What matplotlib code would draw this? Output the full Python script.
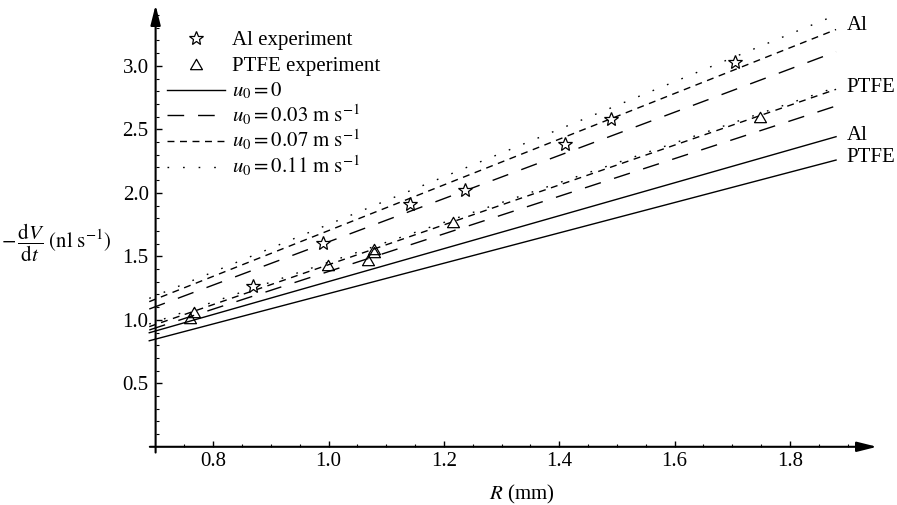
import numpy as np
import matplotlib
matplotlib.use("Agg")
import matplotlib.pyplot as plt
from matplotlib.path import Path
from matplotlib.lines import Line2D
from matplotlib.ticker import FixedLocator

plt.rcParams['font.family'] = ['Liberation Serif', 'DejaVu Serif']
plt.rcParams['mathtext.fontset'] = 'stix'

# model lines (straight, two end points each)
r_line = [0.689, 1.88]
al_u0 = [0.898, 2.442]
al_u003 = [1.085, 3.111]
al_u007 = [1.143, 3.286]
al_u011 = [1.169, 3.400]
ptfe_u0 = [0.835, 2.258]
ptfe_u003 = [0.920, 2.684]
ptfe_u007 = [0.946, 2.815]
ptfe_u011 = [0.967, 2.831]

# experiments
al_r = [0.869, 0.990, 1.142, 1.237, 1.410, 1.490, 1.705]
al_v = [1.266, 1.602, 1.912, 2.022, 2.384, 2.579, 3.030]
ptfe_r = [0.760, 0.767, 0.999, 1.069, 1.079, 1.079, 1.216, 1.748]
ptfe_v = [1.012, 1.064, 1.431, 1.471, 1.534, 1.555, 1.770, 2.594]

labels = [r'$u_0 = 0$', r'$u_0 = 0.03\ \mathrm{m\ s}^{-1}$',
          r'$u_0 = 0.07\ \mathrm{m\ s}^{-1}$', r'$u_0 = 0.11\ \mathrm{m\ s}^{-1}$']
styles = ['-', (0, (12, 10)), (0, (5, 4)), (0, (1.2, 10))]

W, H = 897, 505
fig = plt.figure(figsize=(W / 100, H / 100), dpi=100)
x0, x1, y0, y1 = 155.6, 877, 446.8, 5
ax = fig.add_axes([x0 / W, (H - y0) / H, (x1 - x0) / W, (y0 - y1) / H])
ax.set_xlim(0.7, 1.951)
ax.set_ylim(0, 3.479)
for s in ax.spines.values():
    s.set_visible(False)

for al, pt, ls in zip([al_u0, al_u003, al_u007, al_u011],
                      [ptfe_u0, ptfe_u003, ptfe_u007, ptfe_u011], styles):
    ax.plot(r_line, al, color='black', lw=1.0, ls=ls, clip_on=False)
    ax.plot(r_line, pt, color='black', lw=1.0, ls=ls, clip_on=False)

tri = Path([(-1, -0.866), (1, -0.866), (0, 0.866), (-1, -0.866)], closed=True)
star_kw = dict(marker='*', ms=10, mfc='white', mec='black', mew=0.9)
tri_kw = dict(marker=tri, ms=8.6, mfc='none', mec='black', mew=0.9)
ax.plot(al_r, al_v, ls='none', zorder=5, **star_kw)
ax.plot(ptfe_r, ptfe_v, ls='none', zorder=5, **tri_kw)

# axes with arrows
arr = dict(arrowstyle='-|>,head_length=1.2,head_width=0.3', color='black', lw=1.5,
           shrinkA=0, shrinkB=0)
ax.annotate('', xy=(1, 0), xytext=(-0.008, 0), xycoords='axes fraction', arrowprops=arr)
ax.annotate('', xy=(0, 1), xytext=(0, -0.013), xycoords='axes fraction', arrowprops=arr)

ax.xaxis.set_major_locator(FixedLocator([0.8, 1.0, 1.2, 1.4, 1.6, 1.8]))
ax.xaxis.set_minor_locator(FixedLocator(np.arange(0.75, 1.91, 0.05)))
ax.yaxis.set_major_locator(FixedLocator([0.5, 1.0, 1.5, 2.0, 2.5, 3.0]))
ax.yaxis.set_minor_locator(FixedLocator(np.arange(0.1, 3.41, 0.1)))
ax.xaxis.set_major_formatter(plt.FuncFormatter(lambda v, p: f'{v:.1f}'))
ax.yaxis.set_major_formatter(plt.FuncFormatter(lambda v, p: f'{v:.1f}'))
ax.tick_params(which='major', direction='in', length=4, width=1, labelsize=15, pad=5)
ax.tick_params(which='minor', direction='in', length=2.5, width=0.8)
ax.tick_params(axis='x', pad=4)

# right-hand labels
for txt, yv in [('Al', 3.315), ('PTFE', 2.833), ('Al', 2.451), ('PTFE', 2.278)]:
    ax.text(1.898, yv, txt, fontsize=15, va='center', ha='left', clip_on=False)

fig.text(522 / W, 1 - 494 / H, r'$R$ (mm)', fontsize=15, ha='center', va='center')
fig.text(56 / W, 1 - 243 / H, r'$-\,\dfrac{\mathrm{d}V}{\mathrm{d}t}\ (\mathrm{nl\ s}^{-1})$',
         fontsize=15, ha='center', va='center')

# legend, drawn row by row
def fx(px):
    return px / W

def fy(py):
    return 1 - py / H

rows = [('Al experiment', None, star_kw), ('PTFE experiment', None, tri_kw)]
rows += [(lab, ls, None) for lab, ls in zip(labels, styles)]
for i, (lab, ls, mk) in enumerate(rows):
    yc = 38.3 + 25.7 * i
    if mk is None:
        fig.add_artist(Line2D([fx(167), fx(225)], [fy(yc), fy(yc)], color='black',
                              lw=1.0, ls=ls))
    else:
        fig.add_artist(Line2D([fx(196)], [fy(yc)], ls='none', **mk))
    fig.text(fx(232), fy(yc + 6.5), lab, fontsize=15, ha='left', va='baseline')

fig.savefig('out.png', dpi=100)
